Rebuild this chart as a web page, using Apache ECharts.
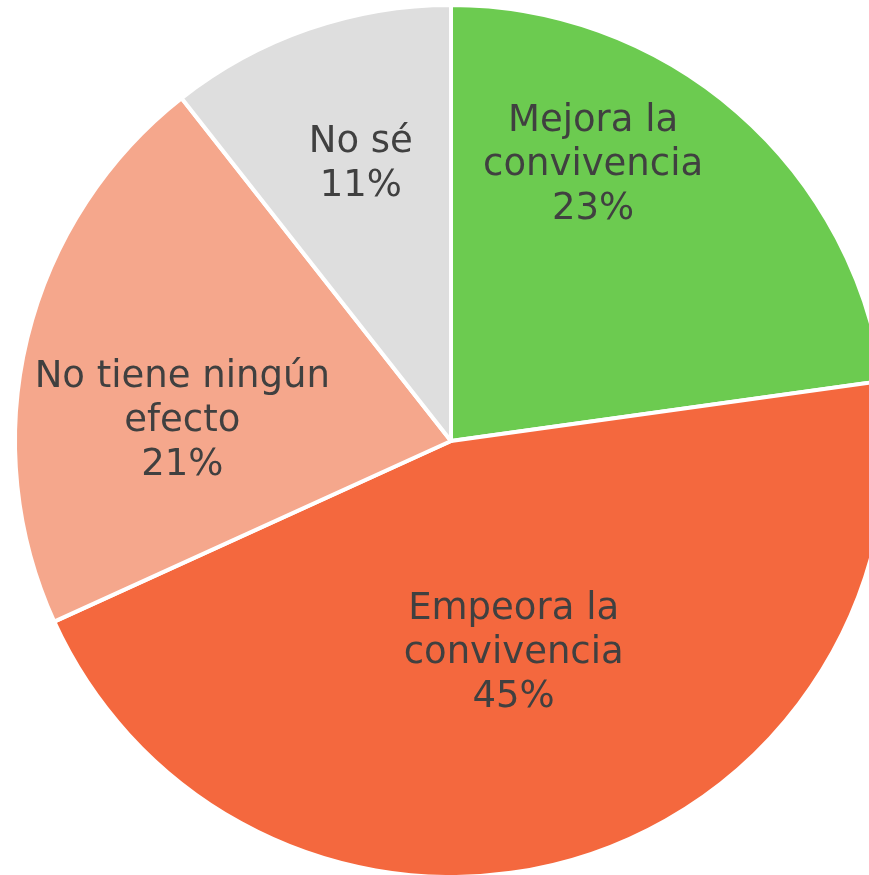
<!DOCTYPE html>
<html>
<head>
<meta charset="utf-8">
<script src="https://cdn.jsdelivr.net/npm/echarts@6/dist/echarts.min.js"></script>
<style>
  html, body { margin: 0; padding: 0; background: #ffffff; }
  #chart { width: 869px; height: 875px; }
</style>
</head>
<body>
<div id="chart"></div>
<script>
const categories = ['Mejora la\nconvivencia', 'Empeora la\nconvivencia', 'No tiene ningún\nefecto', 'No sé'];
// shares; the labels show them rounded
const values = [22.8, 45.4, 21.2, 10.6];
const colors = ['#6ccb50', '#f4683e', '#f5a78c', '#dedede'];
// nudges so the labels sit where the original put them
const labelOffsets = [[-3, -109], [1, 0], [-54, 33], [-18, -68]];

const chart = echarts.init(document.getElementById('chart'));

chart.setOption({
  animation: false,
  series: [
    {
      type: 'pie',
      center: [451, 441],
      radius: 436,
      startAngle: 90,
      clockwise: true,
      itemStyle: {
        borderColor: '#ffffff',
        borderWidth: 4,
      },
      label: {
        position: 'inside',
        formatter: (p) => p.name + '\n' + Math.round(p.value) + '%',
        color: '#404040',
        fontFamily: 'DejaVu Sans',
        fontSize: 37,
        lineHeight: 44,
        align: 'center',
      },
      labelLine: { show: false },
      emphasis: { disabled: true },
      data: categories.map((name, i) => ({
        name: name,
        value: values[i],
        itemStyle: { color: colors[i] },
        label: { offset: labelOffsets[i] },
      })),
    },
  ],
});
</script>
</body>
</html>
